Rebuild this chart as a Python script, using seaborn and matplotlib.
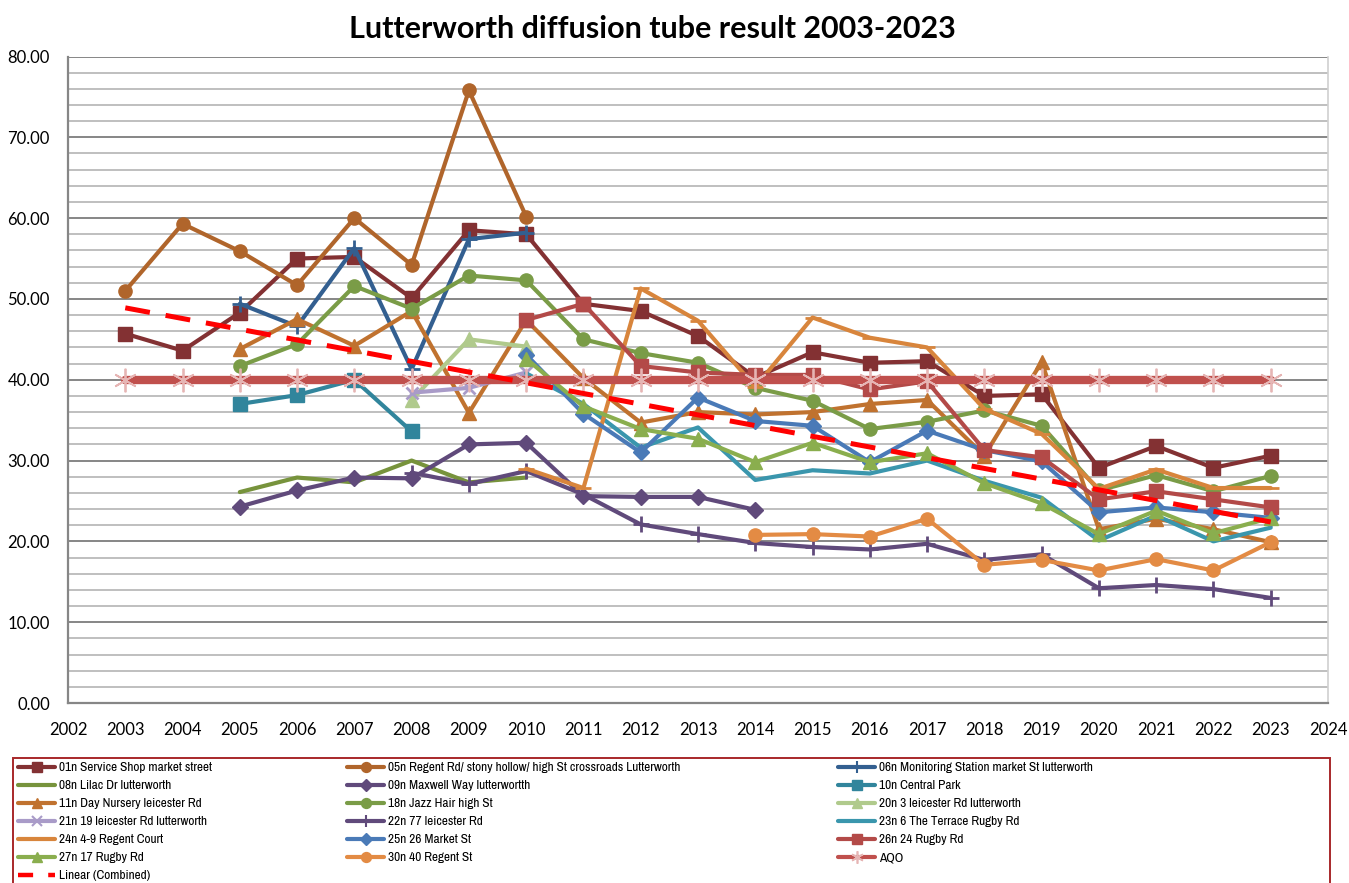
import numpy as np
import pandas as pd
import seaborn as sns
import matplotlib.pyplot as plt
from matplotlib import font_manager
from matplotlib.font_manager import FontProperties
from matplotlib.lines import Line2D
from matplotlib.patches import Rectangle
from matplotlib.ticker import MultipleLocator, FormatStrFormatter

# NO2 annual means, each list starts at its first year
s01n = [45.7, 43.6, 48.3, 55.0, 55.2, 50.1, 58.5, 58.0, 49.4, 48.5, 45.4,
        40.3, 43.4, 42.1, 42.3, 38.0, 38.2, 29.1, 31.8, 29.1, 30.6]  # 2003-
s05n = [51.0, 59.3, 55.9, 51.7, 60.0, 54.2, 75.8, 60.2]  # 2003-
s06n = [49.4, 46.6, 56.3, 41.3, 57.4, 58.2]  # 2005-
s08n = [26.1, 27.9, 27.3, 30.0, 27.3, 27.9]  # 2005-
s09n = [24.3, 26.3, 27.9, 27.8, 32.0, 32.2, 25.6, 25.5, 25.5, 23.9]  # 2005-
s10n = [37.0, 38.1, 40.0, 33.6]  # 2005-
s11n = [43.8, 47.5, 44.2, 48.5, 35.9, 47.4, 40.2, 34.7, 36.0, 35.7, 36.0,
        37.0, 37.5, 30.6, 42.2, 21.5, 22.8, 21.5, 19.9]  # 2005-
s18n = [41.7, 44.4, 51.6, 48.8, 52.9, 52.3, 45.0, 43.3, 42.1, 39.0, 37.4,
        33.9, 34.8, 36.2, 34.3, 26.3, 28.2, 26.2, 28.1]  # 2005-
s20n = [37.5, 45.0, 44.1]  # 2008-
s21n = [38.4, 39.0, 40.9]  # 2008-
s22n = [28.5, 27.1, 28.7, 25.8, 22.1, 20.9, 19.8, 19.3, 19.0, 19.7, 17.7,
        18.4, 14.2, 14.6, 14.1, 13.0]  # 2008-
s23n = [40.8, 37.0, 31.6, 34.1, 27.6, 28.8, 28.4, 30.0, 27.5, 25.4, 20.1,
        23.2, 20.0, 21.7]  # 2010-
s24n = [29.0, 26.6, 51.3, 47.3, 39.1, 47.7, 45.2, 44.0, 36.4, 33.3, 26.5,
        28.9, 26.6, 26.6]  # 2010-
s25n = [43.1, 35.8, 31.0, 37.8, 34.9, 34.3, 29.8, 33.7, 31.3, 29.9, 23.6,
        24.2, 23.6, 22.9]  # 2010-
s26n = [47.4, 49.4, 41.7, 40.9, 40.6, 40.6, 38.8, 39.8, 31.3, 30.4, 25.2,
        26.2, 25.2, 24.2]  # 2010-
s27n = [42.6, 36.7, 33.9, 32.7, 29.8, 32.2, 29.8, 30.9, 27.2, 24.7, 20.9,
        23.8, 21.0, 22.9]  # 2010-
s30n = [20.8, 20.9, 20.6, 22.8, 17.1, 17.7, 16.4, 17.8, 16.4, 19.9]  # 2014-
aqo = [40.0, 40.0, 40.0, 40.0, 40.0, 40.0, 40.0, 40.0, 40.0, 40.0, 40.0,
       40.0, 40.0, 40.0, 40.0, 40.0, 40.0, 40.0, 40.0, 40.0, 40.0]  # 2003-
trend_years = [2003, 2023]
trend_vals = [48.9, 22.4]

# name, first year, values, colour, marker
series = [
    ("01n Service Shop market street", 2003, s01n, "#833133", "s"),
    ("05n Regent Rd/ stony hollow/ high St crossroads Lutterworth", 2003, s05n, "#b0652b", "o"),
    ("06n Monitoring Station market St lutterworth", 2005, s06n, "#335f90", "+"),
    ("08n Lilac Dr lutterworth", 2005, s08n, "#77933c", None),
    ("09n Maxwell Way lutterwortth", 2005, s09n, "#604a7b", "D"),
    ("10n Central Park", 2005, s10n, "#31859c", "s"),
    ("11n Day Nursery leicester Rd", 2005, s11n, "#c0722f", "^"),
    ("18n Jazz Hair high St", 2005, s18n, "#7a9c47", "o"),
    ("20n 3 leicester Rd lutterworth", 2008, s20n, "#b0ca8c", "^"),
    ("21n 19 leicester Rd lutterworth", 2008, s21n, "#a99bc8", "x"),
    ("22n 77 leicester Rd", 2008, s22n, "#604a7b", "+"),
    ("23n 6 The Terrace Rugby Rd", 2010, s23n, "#3a96ad", None),
    ("24n 4-9 Regent Court", 2010, s24n, "#d8853c", "_"),
    ("25n 26 Market St", 2010, s25n, "#4a7ab7", "D"),
    ("26n 24 Rugby Rd", 2010, s26n, "#b34a48", "s"),
    ("27n 17 Rugby Rd", 2010, s27n, "#8aae4e", "^"),
    ("30n 40 Regent St", 2014, s30n, "#e38b44", "o"),
]

W, H = 1349, 883


def fx(px):
    return px / W


def fy(py):
    return 1 - py / H


def narrow_font(size):
    # look for an installed narrow/condensed sans for the legend text
    fonts = font_manager.fontManager.ttflist
    picks = []
    for f in fonts:
        if f.style != "normal" or f.weight not in (400, "normal", "regular"):
            continue
        st = str(f.stretch)
        if "Narrow" in f.name:
            picks.append((0, f))
        elif "Condensed" in f.name or st in ("condensed", "semi-condensed", "500", "600") \
                or (st.isdigit() and int(st) < 500):
            picks.append((1, f))
    if picks:
        picks.sort(key=lambda t: (t[0], "Liberation" not in t[1].name, "DejaVu" not in t[1].name))
        return FontProperties(fname=picks[0][1].fname, size=size), True
    return FontProperties(family="Liberation Sans", size=size * 0.82), False


sns.set_style("white")
plt.rcParams["font.family"] = ["Lato", "DejaVu Sans"]
plt.rcParams["text.color"] = "black"

fig = plt.figure(figsize=(W / 100, H / 100), dpi=100)
ax = fig.add_axes([fx(68), fy(703), fx(1328 - 68), (703 - 56.5) / H])

handles = {}
msize = {"s": 9.5, "o": 9.5, "D": 8, "^": 9.5, "+": 12, "x": 9, "_": 12}
for name, start, vals, col, mk in series:
    yrs = np.arange(start, start + len(vals))
    kw = dict(color=col, linewidth=3.0, ax=ax, label=name)
    if mk is not None:
        kw.update(marker=mk, markersize=msize[mk], markerfacecolor=col,
                  markeredgecolor=col, markeredgewidth=2 if mk in "+x_" else 1)
    sns.lineplot(x=yrs, y=vals, **kw)
    handles[name] = Line2D([], [], color=col, lw=3.0, marker=mk,
                           markersize=msize.get(mk, 0) * 0.75,
                           markerfacecolor=col, markeredgecolor=col,
                           markeredgewidth=1.5 if mk in ("+", "x", "_") else 1)

# AQO limit line
aqo_yrs = np.arange(2003, 2003 + len(aqo))
sns.lineplot(x=aqo_yrs, y=aqo, color="#c0504d", linewidth=6, marker=(6, 2, 0),
             markersize=17, markeredgecolor="#e6b5b4", markerfacecolor="#e6b5b4",
             markeredgewidth=1.3, ax=ax, label="AQO")
handles["AQO"] = Line2D([], [], color="#c0504d", lw=3.0, marker=(6, 2, 0),
                        markersize=9, markeredgecolor="#e6b5b4", markeredgewidth=1.2)

# linear trend of combined data
sns.lineplot(x=trend_years, y=trend_vals, color="#ff0000", linewidth=3.6,
             dashes=False, ax=ax, label="Linear (Combined)")
ax.lines[-1].set_dashes([5, 3.2])
handles["Linear (Combined)"] = Line2D([], [], color="#ff0000", lw=3.2, dashes=[3.4, 3.4])

if ax.get_legend() is not None:
    ax.get_legend().remove()

ax.set_xlim(2002, 2024)
ax.set_ylim(0, 80)
ax.set_xticks(np.arange(2002, 2025))
ax.yaxis.set_major_locator(MultipleLocator(10))
ax.yaxis.set_minor_locator(MultipleLocator(2))
ax.yaxis.set_major_formatter(FormatStrFormatter("%.2f"))
ax.set_axisbelow(True)
ax.grid(which="major", axis="y", color="#868686", linewidth=1.4)
ax.grid(which="minor", axis="y", color="#bfbfbf", linewidth=1.4)
ax.grid(which="major", axis="x", visible=False)
ax.tick_params(which="major", direction="out", length=6, width=1.4,
               color="#868686", labelsize=12, labelcolor="black")
ax.tick_params(axis="y", which="major", pad=7)
ax.tick_params(axis="x", which="major", pad=8)
ax.tick_params(which="minor", length=0)
ax.set_xlabel("")
ax.set_ylabel("")
for side in ["left", "bottom"]:
    ax.spines[side].set_color("#868686")
    ax.spines[side].set_linewidth(1.6)
ax.spines["right"].set_color("#d0d0d0")
ax.spines["right"].set_linewidth(1.2)
ax.spines["top"].set_visible(False)

fig.text(fx(652), fy(29), "Lutterworth diffusion tube result 2003-2023",
         ha="center", va="center", fontsize=22, fontweight="bold", color="black")

# legend laid out row by row in three columns, like the original
leg_font, is_narrow = narrow_font(9.6)
names = [s[0] for s in series] + ["AQO"]
cols = [names[0::3] + ["Linear (Combined)"], names[1::3], names[2::3]]
col_x = [18, 347, 838]
for xs, group in zip(col_x, cols):
    fig.legend([handles[n] for n in group], group, loc="upper left",
               bbox_to_anchor=(fx(xs), fy(762)), frameon=False, borderpad=0,
               borderaxespad=0, handlelength=2.8 * 9.6 / leg_font.get_size(),
               handletextpad=0.25, labelspacing=0.5 * 9.6 / leg_font.get_size(),
               prop=leg_font, labelcolor="black")

fig.patches.append(Rectangle((fx(13), fy(900)), fx(1330 - 13), (900 - 758) / H,
                             transform=fig.transFigure, fill=False,
                             edgecolor="#a8282a", linewidth=1.4))

fig.savefig("out.png", dpi=100)
